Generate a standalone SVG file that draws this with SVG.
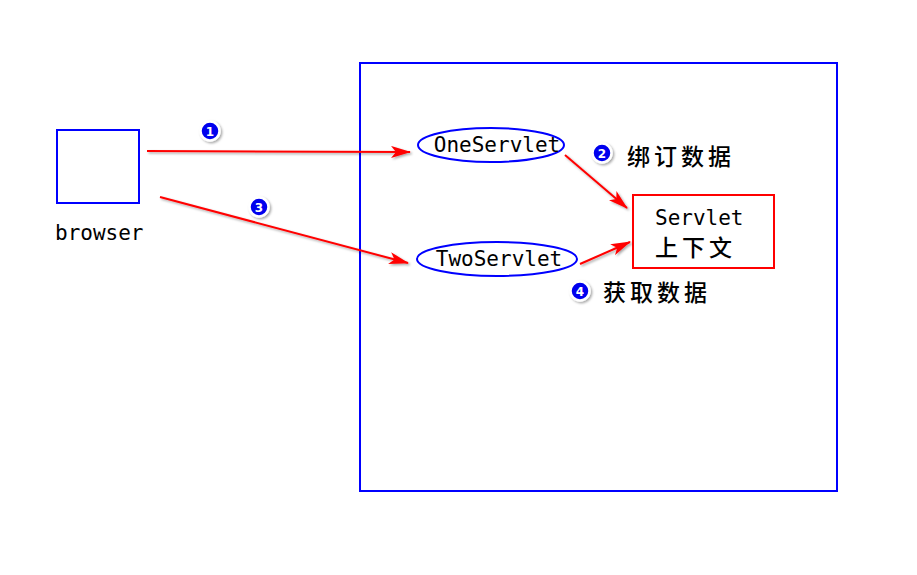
<svg xmlns="http://www.w3.org/2000/svg" width="917" height="575" viewBox="0 0 917 575">
<style>
.box{fill:none;stroke:#0000ff;stroke-width:2}
.mono{font-family:"DejaVu Sans Mono","Liberation Mono",monospace;font-size:21px;fill:#000}
.cjk{font-family:"Noto Sans CJK SC","Noto Sans CJK JP",sans-serif;font-size:23px;font-weight:500;fill:#000}
.conn{stroke:#ff0000;stroke-width:2;fill:none;marker-end:url(#ah);filter:url(#sh)}
.badge circle{fill:#0000ee;stroke:#fff;stroke-width:2.5;filter:url(#sh)}
.badge text{font-family:"DejaVu Sans",sans-serif;font-size:12px;font-weight:bold;fill:#fff;text-anchor:middle}
</style>
<defs>
<marker id="ah" markerWidth="20" markerHeight="12" refX="19" refY="6" orient="auto" markerUnits="userSpaceOnUse">
<path d="M0,0 L20,6 L0,12 L5,6 Z" fill="#ff0000"/>
</marker>
<filter id="sh" filterUnits="userSpaceOnUse" x="0" y="0" width="917" height="575">
<feDropShadow dx="1.5" dy="1.5" stdDeviation="1" flood-color="#000" flood-opacity="0.35"/>
</filter>
</defs>
<rect width="917" height="575" fill="#fff"/>
<g id="container"><rect class="box" x="360" y="63" width="477" height="428"/></g>
<g id="browser"><rect class="box" x="57" y="130" width="82" height="73"/><text class="mono" x="55" y="240">browser</text></g>
<g id="oneservlet"><ellipse class="box" cx="491" cy="145" rx="73" ry="17"/><text class="mono" x="497" y="152" text-anchor="middle">OneServlet</text></g>
<g id="twoservlet"><ellipse class="box" cx="497" cy="259" rx="80" ry="17"/><text class="mono" x="499" y="266" text-anchor="middle">TwoServlet</text></g>
<g id="context"><rect x="633" y="195" width="141" height="73" fill="none" stroke="#ff0000" stroke-width="2"/><text class="mono" x="655" y="225">Servlet</text><text class="cjk" x="655" y="256" letter-spacing="4">上下文</text></g>
<g id="connectors">
<path class="conn" d="M147,151 L410,152"/>
<path class="conn" d="M160,197 L408,263"/>
<path class="conn" d="M565,155 L627,208"/>
<path class="conn" d="M580,264 L630,242"/>
</g>
<g id="labels">
<g class="badge"><circle cx="210" cy="131" r="9.5"/><text x="210" y="135.5">1</text></g>
<g class="badge"><circle cx="259" cy="207" r="9.5"/><text x="259" y="211.5">3</text></g>
<g class="badge"><circle cx="602" cy="153" r="9.5"/><text x="602" y="157.5">2</text></g>
<g class="badge"><circle cx="580" cy="291" r="9.5"/><text x="580" y="295.5">4</text></g>
<text class="cjk" x="627" y="165" letter-spacing="4">绑订数据</text>
<text class="cjk" x="603" y="301" letter-spacing="4">获取数据</text>
</g>
</svg>
